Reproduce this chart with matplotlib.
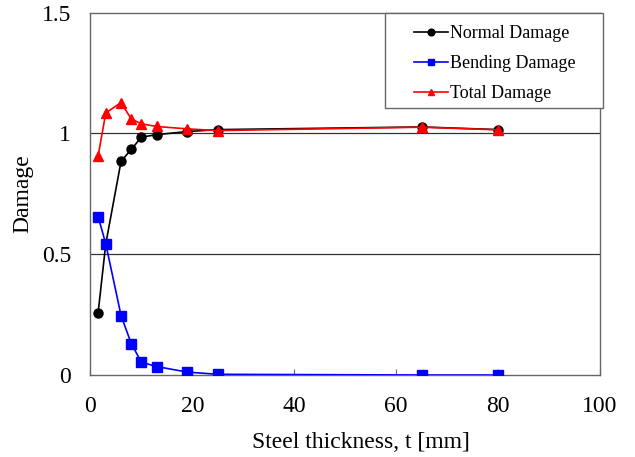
import matplotlib
matplotlib.use("Agg")
import matplotlib.pyplot as plt
from matplotlib.patches import Rectangle

thickness = [1.5, 3, 6, 8, 10, 13, 19, 25, 65, 80]
normal_damage = [0.258, 0.543, 0.885, 0.934, 0.985, 0.995, 1.008, 1.016, 1.027, 1.016]
bending_damage = [0.656, 0.543, 0.246, 0.13, 0.053, 0.035, 0.012, 0.003, 0.0, 0.0]
total_damage = [0.907, 1.085, 1.128, 1.06, 1.04, 1.029, 1.019, 1.012, 1.026, 1.015]

x_ticks = [0, 20, 40, 60, 80, 100]
y_ticks = [0, 0.5, 1, 1.5]
y_tick_labels = ["0", "0.5", "1", "1.5"]

plt.rcParams['font.family'] = ['Liberation Serif', 'DejaVu Serif']

fig = plt.figure(figsize=(6.35, 4.57), dpi=100)
ax = fig.add_axes([0.1425, 0.1794, 0.8025, 0.7928])

for y in [0.5, 1.0]:
    ax.axhline(y, color='#333333', lw=0.9, zorder=1)

ax.plot(thickness, normal_damage, '-o', color='black', ms=6.5, lw=1.2, label='Normal Damage', zorder=3)
ax.plot(thickness, bending_damage, '-s', color='#0000FF', ms=6.5, lw=1.2, label='Bending Damage', zorder=3)
ax.plot(thickness, total_damage, '-^', color='#FF0000', ms=6.5, lw=1.2, label='Total Damage', zorder=4)

ax.set_xlim(0, 100)
ax.set_ylim(0, 1.5)
ax.set_xticks(x_ticks)
ax.set_yticks(y_ticks)
ax.set_yticklabels(y_tick_labels)
ax.tick_params(axis='x', direction='in', length=4, color='#666666', labelsize=17, pad=15)
ax.tick_params(axis='y', length=0, labelsize=17, pad=14)
for s in ax.spines.values():
    s.set_color('#666666')
    s.set_linewidth(1.0)

ax.set_xlabel('Steel thickness, t [mm]', fontsize=17, labelpad=11)
ax.xaxis.set_label_coords(0.531, -0.158)
ax.set_ylabel('Damage', fontsize=17, labelpad=6)

box = Rectangle((0.578, 0.737), 0.4275, 0.2625, transform=ax.transAxes, fill=True,
                facecolor='white', edgecolor='#666666', lw=1.0, clip_on=False, zorder=5)
ax.add_patch(box)
leg = ax.legend(loc='center', bbox_to_anchor=(0.793, 0.860), fontsize=13, frameon=False,
                handlelength=1.9, handletextpad=0.1, borderpad=0.0, labelspacing=0.72,
                markerscale=0.75)
leg.set_zorder(6)

fig.savefig('out.png', dpi=100)
